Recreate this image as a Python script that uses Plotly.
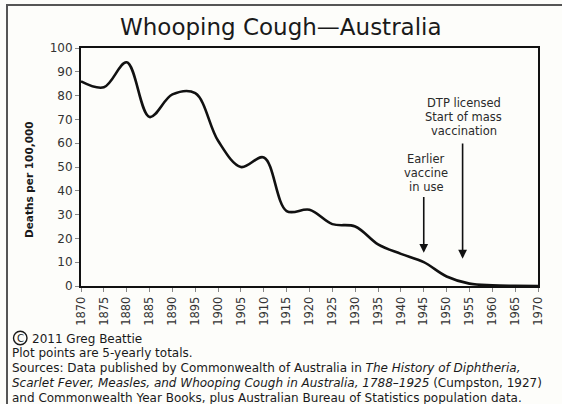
import plotly.graph_objects as go

years = [1870, 1875, 1880, 1885, 1890, 1895, 1900, 1905, 1910, 1915, 1920,
         1925, 1930, 1935, 1940, 1945, 1950, 1955, 1960, 1965, 1970]
deaths = [86, 83.5, 94, 71, 80.5, 81, 61, 50, 54, 31.5, 32,
          26, 25, 17.5, 13.5, 10, 4, 1, 0.3, 0.1, 0]

x_ticks = [1870, 1875, 1880, 1885, 1890, 1895, 1900, 1905, 1910, 1915, 1920,
           1925, 1930, 1935, 1940, 1945, 1950, 1955, 1960, 1965, 1970]
y_ticks = [0, 10, 20, 30, 40, 50, 60, 70, 80, 90, 100]

title = "Whooping Cough\u2014Australia"
y_title = "Deaths per 100,000"
note_early = ["Earlier", "vaccine", "in use"]
note_dtp = ["DTP licensed", "Start of mass", "vaccination"]
arrow_early = {"x": 1945, "from": 38, "to": 14}
arrow_dtp = {"x": 1953.5, "from": 60.5, "to": 11.5}
copyright_letter = "C"
copyright_text = "2011 Greg Beattie"
footer = [
    "Plot points are 5-yearly totals.",
    "Sources: Data published by Commonwealth of Australia in <i>The History of Diphtheria,</i>",
    "<i>Scarlet Fever, Measles, and Whooping Cough in Australia, 1788\u20131925</i> (Cumpston, 1927)",
    "and Commonwealth Year Books, plus Australian Bureau of Statistics population data.",
]

W, H = 562, 404
L, R, T, B = 81, 24, 48, 118
pw, ph = W - L - R, H - T - B

def px_x(x):
    return (x - L) / pw

def px_y(y):
    return (H - B - y) / ph

FONT = "DejaVu Sans"
BG = "#fdfdfa"

fig = go.Figure()
fig.add_trace(go.Scatter(
    x=years, y=deaths, mode="lines",
    line=dict(color="#111111", width=2.6, shape="spline", smoothing=1.0),
    hoverinfo="skip", showlegend=False,
))

annotations = []
annotations.append(dict(
    text=title, x=px_x(281), y=px_y(27), xref="paper", yref="paper",
    xanchor="center", yanchor="middle", showarrow=False,
    font=dict(family=FONT, size=23, color="#1a1a1a"),
))
annotations.append(dict(
    text="<b>" + y_title + "</b>", x=px_x(29), y=px_y(180), xref="paper", yref="paper",
    xanchor="center", yanchor="middle", showarrow=False, textangle=-90,
    font=dict(family=FONT, size=10.5, color="#1a1a1a"),
))
for i, t in enumerate(note_dtp):
    annotations.append(dict(
        text=t, x=1953.8, y=px_y(103 + 14 * i), xref="x", yref="paper",
        xanchor="center", yanchor="middle", showarrow=False,
        font=dict(family=FONT, size=11.5, color="#2a2a2a"),
    ))
for i, t in enumerate(note_early):
    annotations.append(dict(
        text=t, x=1945.5, y=px_y(159 + 14 * i), xref="x", yref="paper",
        xanchor="center", yanchor="middle", showarrow=False,
        font=dict(family=FONT, size=11.5, color="#2a2a2a"),
    ))
for a in (arrow_early, arrow_dtp):
    annotations.append(dict(
        x=a["x"], y=a["to"], ax=a["x"], ay=a["from"], xref="x", yref="y",
        axref="x", ayref="y", text="", showarrow=True, arrowhead=2,
        arrowsize=1.1, arrowwidth=1.6, arrowcolor="#111111", standoff=0,
    ))
annotations.append(dict(
    text=copyright_letter, x=px_x(20.3), y=px_y(338), xref="paper", yref="paper",
    xanchor="center", yanchor="middle", showarrow=False,
    font=dict(family=FONT, size=10, color="#1a1a1a"),
))
annotations.append(dict(
    text=copyright_text, x=px_x(30), y=px_y(338.5), xref="paper", yref="paper",
    xanchor="left", yanchor="middle", showarrow=False,
    font=dict(family=FONT, size=12, color="#1a1a1a"),
))
for i, t in enumerate(footer):
    annotations.append(dict(
        text=t, x=px_x(10), y=px_y([353, 368, 383, 398][i]),
        xref="paper", yref="paper", xanchor="left", yanchor="middle",
        showarrow=False, align="left",
        font=dict(family=FONT, size=12, color="#1a1a1a"),
    ))

shapes = [
    dict(type="rect", xref="paper", yref="paper",
         x0=px_x(7), x1=px_x(600), y0=px_y(440), y1=px_y(5),
         line=dict(color="#555555", width=2), layer="below"),
    dict(type="circle", xref="paper", yref="paper",
         x0=px_x(13.5), x1=px_x(27), y0=px_y(344.8), y1=px_y(331.3),
         line=dict(color="#1a1a1a", width=1.4), layer="above"),
]

fig.update_layout(
    width=W, height=H, margin=dict(l=L, r=R, t=T, b=B),
    paper_bgcolor=BG, plot_bgcolor=BG,
    annotations=annotations, shapes=shapes,
    xaxis=dict(
        range=[1870, 1970], tickvals=x_ticks, ticktext=[str(v) for v in x_ticks],
        tickangle=-90, showgrid=False, zeroline=False, automargin=False,
        showline=True, linecolor="#111111", linewidth=2, mirror=True,
        ticks="outside", ticklen=4, tickcolor="#888888", tickwidth=1,
        tickfont=dict(family=FONT, size=11.5, color="#333333"),
    ),
    yaxis=dict(
        range=[0, 100], tickvals=y_ticks, showgrid=False, zeroline=False, automargin=False,
        showline=True, linecolor="#111111", linewidth=2, mirror=True,
        ticks="outside", ticklen=4, tickcolor="#888888", tickwidth=1,
        tickfont=dict(family=FONT, size=12, color="#333333"),
    ),
)

fig.write_html(
    "out.html",
    config={"displayModeBar": False, "staticPlot": True},
    post_script="document.body.style.margin='0';document.body.style.overflow='hidden';",
)
